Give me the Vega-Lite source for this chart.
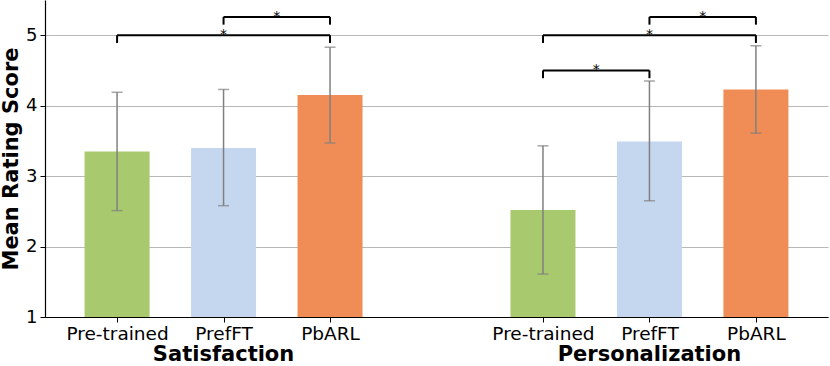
{
  "$schema": "https://vega.github.io/schema/vega-lite/v6.json",
  "width": 783,
  "height": 317,
  "autosize": {"type": "none"},
  "padding": {"left": 45, "top": 0, "right": 2, "bottom": 49},
  "config": {
    "font": "DejaVu Sans",
    "view": {"stroke": null},
    "axis": {"labelFont": "DejaVu Sans", "titleFont": "DejaVu Sans", "labelColor": "black", "titleColor": "black", "domainColor": "black", "tickColor": "black"}
  },
  "datasets": {
    "bars": [
      {"x": 0, "group": "Satisfaction", "model": "Pre-trained", "mean": 3.35, "lo": 2.51, "hi": 4.19},
      {"x": 1, "group": "Satisfaction", "model": "PrefFT", "mean": 3.40, "lo": 2.58, "hi": 4.23},
      {"x": 2, "group": "Satisfaction", "model": "PbARL", "mean": 4.15, "lo": 3.47, "hi": 4.83},
      {"x": 4, "group": "Personalization", "model": "Pre-trained", "mean": 2.52, "lo": 1.61, "hi": 3.43},
      {"x": 5, "group": "Personalization", "model": "PrefFT", "mean": 3.49, "lo": 2.65, "hi": 4.35},
      {"x": 6, "group": "Personalization", "model": "PbARL", "mean": 4.23, "lo": 3.61, "hi": 4.85}
    ],
    "brackets": [
      {"x1": 1, "x2": 2, "xm": 1.5, "y": 5.26, "ylow": 5.15},
      {"x1": 0, "x2": 2, "xm": 1, "y": 5.0, "ylow": 4.89},
      {"x1": 5, "x2": 6, "xm": 5.5, "y": 5.26, "ylow": 5.15},
      {"x1": 4, "x2": 6, "xm": 5, "y": 5.0, "ylow": 4.89},
      {"x1": 4, "x2": 5, "xm": 4.5, "y": 4.5, "ylow": 4.39}
    ],
    "groups": [
      {"x": 1, "label": "Satisfaction"},
      {"x": 5, "label": "Personalization"}
    ]
  },
  "layer": [
    {
      "data": {"name": "bars"},
      "mark": {"type": "bar", "size": 65},
      "encoding": {
        "x": {
          "field": "x", "type": "quantitative",
          "scale": {"domain": [-0.63, 6.63], "nice": false, "zero": false},
          "axis": {
            "values": [0, 1, 2, 4, 5, 6],
            "labelExpr": "['Pre-trained','PrefFT','PbARL'][datum.value % 4]",
            "title": null, "grid": false, "labelFontSize": 18.5, "tickSize": 5, "labelPadding": 2, "domainWidth": 1.2
          }
        },
        "y": {
          "field": "mean", "type": "quantitative",
          "scale": {"domain": [1, 5.5], "nice": false, "zero": false},
          "axis": {
            "values": [1, 2, 3, 4, 5], "format": "d", "title": "Mean Rating Score", "titleFontSize": 21, "titleFontWeight": "bold",
            "labelFontSize": 18, "tickSize": 5, "labelPadding": 3, "grid": true, "gridColor": "#b8b8b8", "gridWidth": 1, "titlePadding": 4, "domainWidth": 1.2
          }
        },
        "y2": {"datum": 1},
        "color": {
          "field": "model", "type": "nominal",
          "scale": {"domain": ["Pre-trained", "PrefFT", "PbARL"], "range": ["#a9c96e", "#c5d6ef", "#f08c55"]},
          "legend": null
        }
      }
    },
    {
      "data": {"name": "bars"},
      "mark": {"type": "rule", "color": "#808080", "strokeWidth": 1.5},
      "encoding": {
        "x": {"field": "x", "type": "quantitative"},
        "y": {"field": "lo", "type": "quantitative"},
        "y2": {"field": "hi"}
      }
    },
    {
      "data": {"name": "bars"},
      "mark": {"type": "tick", "orient": "horizontal", "color": "#808080", "size": 11, "thickness": 1.5},
      "encoding": {
        "x": {"field": "x", "type": "quantitative"},
        "y": {"field": "lo", "type": "quantitative"}
      }
    },
    {
      "data": {"name": "bars"},
      "mark": {"type": "tick", "orient": "horizontal", "color": "#808080", "size": 11, "thickness": 1.5},
      "encoding": {
        "x": {"field": "x", "type": "quantitative"},
        "y": {"field": "hi", "type": "quantitative"}
      }
    },
    {
      "mark": {"type": "rule", "color": "black", "strokeWidth": 1.5, "strokeDash": [4, 3]},
      "encoding": {
        "x": {"datum": 3, "type": "quantitative"},
        "y": {"datum": 1, "type": "quantitative"},
        "y2": {"datum": 5}
      }
    },
    {
      "data": {"name": "brackets"},
      "mark": {"type": "rule", "color": "black", "strokeWidth": 2},
      "encoding": {
        "x": {"field": "x1", "type": "quantitative"},
        "x2": {"field": "x2"},
        "y": {"field": "y", "type": "quantitative"}
      }
    },
    {
      "data": {"name": "brackets"},
      "mark": {"type": "rule", "color": "black", "strokeWidth": 2},
      "encoding": {
        "x": {"field": "x1", "type": "quantitative"},
        "y": {"field": "ylow", "type": "quantitative"},
        "y2": {"field": "y"}
      }
    },
    {
      "data": {"name": "brackets"},
      "mark": {"type": "rule", "color": "black", "strokeWidth": 2},
      "encoding": {
        "x": {"field": "x2", "type": "quantitative"},
        "y": {"field": "ylow", "type": "quantitative"},
        "y2": {"field": "y"}
      }
    },
    {
      "data": {"name": "brackets"},
      "mark": {"type": "text", "text": "*", "fontSize": 14, "baseline": "alphabetic", "dy": 4, "fill": "black", "color": "black"},
      "encoding": {
        "x": {"field": "xm", "type": "quantitative"},
        "y": {"field": "y", "type": "quantitative"}
      }
    },
    {
      "data": {"name": "groups"},
      "mark": {"type": "text", "fontSize": 21, "fontWeight": "bold", "baseline": "middle", "dy": 38, "fill": "black", "color": "black"},
      "encoding": {
        "x": {"field": "x", "type": "quantitative"},
        "y": {"datum": 1, "type": "quantitative"},
        "text": {"field": "label"}
      }
    }
  ]
}
